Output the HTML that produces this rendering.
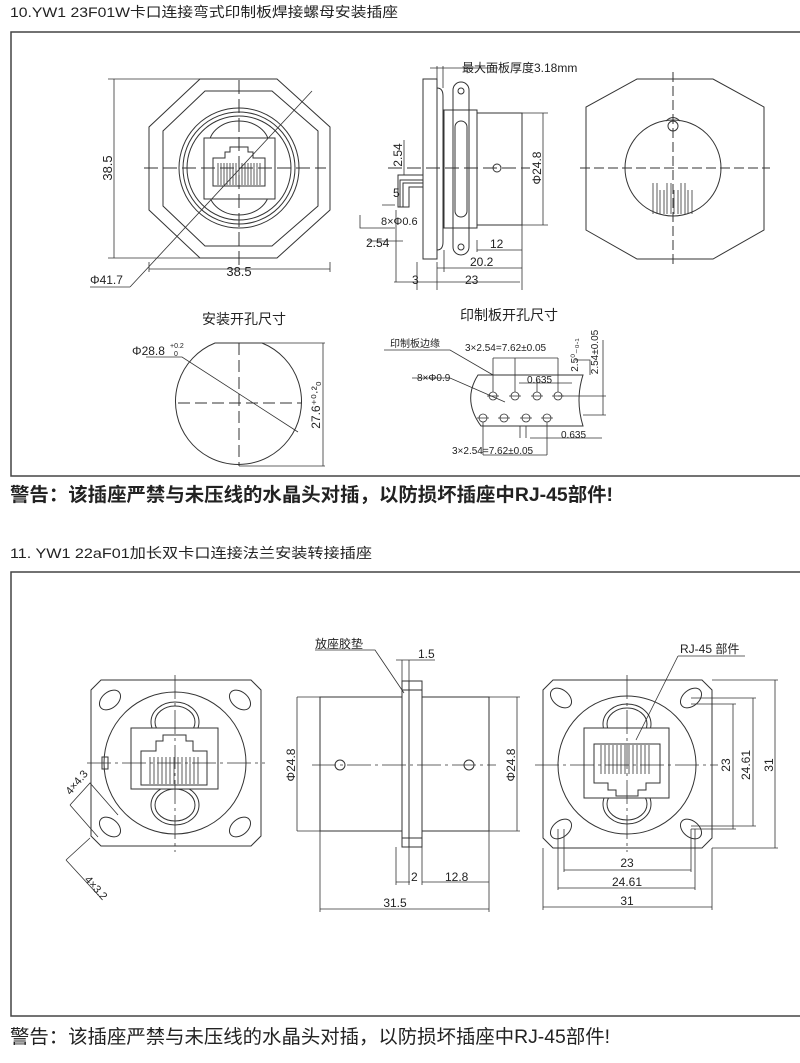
<!DOCTYPE html>
<html><head><meta charset="utf-8"><style>
html,body{margin:0;padding:0;background:#fff;width:800px;height:1063px;overflow:hidden}
svg{display:block}
text{font-family:"Liberation Sans","Noto Sans CJK SC",sans-serif;fill:#222}
</style></head><body>
<svg width="800" height="1063" viewBox="0 0 800 1063" xmlns="http://www.w3.org/2000/svg">
<g fill="none" stroke="#333" stroke-width="1">
<rect x="11" y="32" width="795" height="444" stroke="#444" stroke-width="1.5"/>
<rect x="11" y="572" width="795" height="444" stroke="#444" stroke-width="1.5"/>

<polygon points="200,79 277,79 330,127 330,210 277,258 200,258 149,210 149,127"/>
<polygon points="205,91 272,91 318,131 318,206 272,246 205,246 163,206 163,131"/>
<circle cx="239" cy="168" r="60"/>
<circle cx="239" cy="168" r="56"/>
<circle cx="239" cy="168" r="52"/>
<ellipse cx="239" cy="145" rx="30" ry="24"/>
<ellipse cx="239" cy="191" rx="30" ry="24"/>
<rect x="204" y="138" width="71" height="61" fill="#fff"/>
<path d="M213,186 V158 H225 V152 H230 V147 H248 V152 H253 V158 H265 V186 Z"/>
<g stroke-width="0.8">
<path d="M218,163V185M221,163V185M224,163V185M227,163V185M230,163V185M233,163V185M236,163V185M239,163V185M242,163V185M245,163V185M248,163V185M251,163V185M254,163V185M257,163V185M260,163V185"/>
</g>
<path d="M144,168H326M239,80V270" stroke-dasharray="14,5"/>
<path d="M130,287 L312,91" stroke-width="0.8"/>
<path d="M114,79V258M108,79H200M108,258H200M149,262V272M330,262V272M149,269H330" stroke-width="0.8"/>
<path d="M90,287H130" stroke-width="0.8"/>

<rect x="423" y="79" width="14" height="180"/>
<path d="M437,88 Q443,88 443,96 V242 Q443,250 437,250"/>
<rect x="444" y="110" width="33" height="118"/>
<rect x="453" y="82" width="16" height="173" rx="8"/>
<rect x="455" y="121" width="12" height="96" rx="6"/>
<circle cx="461" cy="91" r="3"/><circle cx="461" cy="247" r="3"/>
<rect x="477" y="113" width="45" height="112"/>
<circle cx="497" cy="168" r="4"/>
<path d="M388,168H530" stroke-dasharray="14,5"/>
<path d="M423,175H398V207H403V183H423M423,180H400V207M409,193V207"/>
<path d="M398,193V207H409V187H423"/>
<path d="M543,113V225M522,113H548M522,225H548" stroke-width="0.8"/>
<path d="M437,66V79M443,66V88M430,68H498" stroke-width="0.8"/>
<path d="M404,140V175M395,205H382M395,228H360V215M403,241H368M396,210V282M417,262V290M394,282H520M437,262V290M444,250V272M477,240V252M477,250H522M437,268H522M522,225V290" stroke-width="0.8"/>

<polygon points="637,79 713,79 764,107 764,230 713,259 637,259 586,230 586,107"/>
<circle cx="673" cy="168" r="48"/>
<circle cx="673" cy="126" r="5"/><path d="M666,121 Q673,114 680,121" />
<path d="M580,168H770M673,72V265" stroke-dasharray="10,4"/>
<g stroke-width="0.8"><path d="M653,183V214M657,183V214M660,190V214M664,190V214M667,183V214M671,183V214M674,190V214M678,190V214M681,183V214M685,183V214M688,190V214M692,190V214"/></g>

<path d="M215,343 H262 A63,63 0 1 1 215,343 Z"/>
<path d="M178,403H302M239,343V466" stroke-dasharray="12,5"/>
<path d="M146,357 H182 L298,432" stroke-width="0.8"/>
<path d="M262,343H325M239,466H325M323,343V466" stroke-width="0.8"/>

<path d="M478,375 H583 Q575,400 583,426 H481 Q462,400 478,375Z"/>
<g stroke-width="0.8">
<circle cx="493" cy="396" r="4"/><circle cx="515" cy="396" r="4"/><circle cx="537" cy="396" r="4"/><circle cx="558" cy="396" r="4"/>
<circle cx="483" cy="418" r="4"/><circle cx="504" cy="418" r="4"/><circle cx="526" cy="418" r="4"/><circle cx="547" cy="418" r="4"/>
<path d="M487,396H499M509,396H521M531,396H543M552,396H564M477,418H489M498,418H510M520,418H532M541,418H553"/>
<path d="M384,350H450L493,375M412,378H450L505,402M493,358V392M558,358V392M493,358H558M515,358V392M537,380V392M519,383H572M558,396H606M583,415H606M575,360H590V375M603,340V415M483,422V455M547,422V455M483,455H547M520,426V438M526,426V438M530,438H602"/>
</g>

<polygon points="101,680 251,680 261,690 261,836 251,846 101,846 91,836 91,690"/>
<circle cx="175" cy="763" r="71"/>
<ellipse cx="175" cy="722" rx="24" ry="20"/><ellipse cx="175" cy="722" rx="20" ry="16"/>
<ellipse cx="175" cy="805" rx="24" ry="20"/><ellipse cx="175" cy="805" rx="20" ry="16"/>
<rect x="131" y="728" width="87" height="61" fill="#fff"/>
<path d="M141,785V751H156V741H163V735H186V741H193V751H207V785Z"/>
<g stroke-width="0.8"><path d="M150,757V784M154,757V784M158,757V784M162,757V784M166,757V784M170,757V784M174,757V784M178,757V784M182,757V784M186,757V784M190,757V784M194,757V784M198,757V784"/></g>
<g transform="rotate(-40 110 700)"><ellipse cx="110" cy="700" rx="12" ry="8"/></g>
<g transform="rotate(40 240 700)"><ellipse cx="240" cy="700" rx="12" ry="8"/></g>
<g transform="rotate(40 110 827)"><ellipse cx="110" cy="827" rx="12" ry="8"/></g>
<g transform="rotate(-40 240 827)"><ellipse cx="240" cy="827" rx="12" ry="8"/></g>
<rect x="102" y="757" width="6" height="12"/>
<path d="M87,763H265M175,675V852" stroke-dasharray="24,4,3,4" stroke-width="0.8"/>
<path d="M70,805L90,783L118,815M70,805L98,837M66,860L90,838M66,860L100,897" stroke-width="0.8"/>

<rect x="320" y="697" width="169" height="134"/>
<rect x="402" y="681" width="20" height="166" fill="#fff"/>
<path d="M409,681V847M402,690H422M402,838H422"/>
<circle cx="340" cy="765" r="5"/><circle cx="469" cy="765" r="5"/>
<path d="M312,765H496" stroke-dasharray="24,4,3,4" stroke-width="0.8"/>
<path d="M297,697V831M297,697H320M297,831H320M517,697V831M489,697H520M489,831H520M320,831V912M489,831V912M320,909H489M396,847V885M409,847V885M422,847V885M396,882H410M422,882H489M402,660V681M409,660V681M396,660H435M315,650H375L404,693" stroke-width="0.8"/>

<polygon points="553,680 702,680 712,690 712,838 702,848 553,848 543,838 543,690"/>
<circle cx="627" cy="765" r="69"/>
<ellipse cx="627" cy="724" rx="24" ry="20"/><ellipse cx="627" cy="724" rx="20" ry="16"/>
<ellipse cx="627" cy="804" rx="24" ry="20"/><ellipse cx="627" cy="804" rx="20" ry="16"/>
<rect x="584" y="728" width="85" height="70" fill="#fff"/>
<path d="M594,744V783H608V790H616V796H638V790H646V783H660V744Z"/>
<g stroke-width="0.8"><path d="M601,745V774M605,745V774M609,745V774M613,745V774M617,745V774M621,745V774M625,745V774M629,745V774M633,745V774M637,745V774M641,745V774M645,745V774M649,745V774"/></g>
<g transform="rotate(40 561 698)"><ellipse cx="561" cy="698" rx="12" ry="8"/></g>
<g transform="rotate(-40 691 698)"><ellipse cx="691" cy="698" rx="12" ry="8"/></g>
<g transform="rotate(-40 561 829)"><ellipse cx="561" cy="829" rx="12" ry="8"/></g>
<g transform="rotate(40 691 829)"><ellipse cx="691" cy="829" rx="12" ry="8"/></g>
<path d="M535,765H718M627,675V852" stroke-dasharray="24,4,3,4" stroke-width="0.8"/>
<path d="M691,698H756M691,704H736M691,829H736M691,826H756M712,680H778M712,848H778M733,704V829M753,698V826M775,680V848" stroke-width="0.8"/>
<path d="M564,829V872M558,829V890M691,829V872M695,829V890M543,848V910M712,848V910M564,870H691M558,888H695M543,907H712" stroke-width="0.8"/>
<path d="M678,656H745M678,656L636,740" stroke-width="0.8"/>
</g>

<text x="10" y="17" font-size="14" textLength="388" lengthAdjust="spacingAndGlyphs">10.YW1 23F01W卡口连接弯式印制板焊接螺母安装插座</text>
<text x="112" y="168" font-size="13" transform="rotate(-90 112 168)" text-anchor="middle">38.5</text>
<text x="239" y="276" font-size="13" text-anchor="middle">38.5</text>
<text x="90" y="284" font-size="12">Φ41.7</text>
<text x="462" y="72" font-size="12">最大面板厚度3.18mm</text>
<text x="402" y="155" font-size="12" transform="rotate(-90 402 155)" text-anchor="middle">2.54</text>
<text x="393" y="197" font-size="12">5</text>
<text x="381" y="225" font-size="11">8×Φ0.6</text>
<text x="366" y="247" font-size="12">2.54</text>
<text x="490" y="248" font-size="12">12</text>
<text x="470" y="266" font-size="12">20.2</text>
<text x="412" y="284" font-size="12">3</text>
<text x="465" y="284" font-size="12">23</text>
<text x="541" y="168" font-size="12" transform="rotate(-90 541 168)" text-anchor="middle">Φ24.8</text>
<text x="202" y="324" font-size="14">安装开孔尺寸</text>
<text x="460" y="320" font-size="14">印制板开孔尺寸</text>
<text x="132" y="355" font-size="12">Φ28.8</text><text x="170" y="348" font-size="7">+0.2</text><text x="174" y="356" font-size="7">0</text>
<text x="320" y="405" font-size="12" transform="rotate(-90 320 405)" text-anchor="middle">27.6⁺⁰·²₀</text>
<text x="390" y="347" font-size="10">印制板边缘</text>
<text x="465" y="351" font-size="10">3×2.54=7.62±0.05</text>
<text x="417" y="381" font-size="10">8×Φ0.9</text>
<text x="527" y="383" font-size="10">0.635</text>
<text x="561" y="438" font-size="10">0.635</text>
<text x="452" y="454" font-size="10">3×2.54=7.62±0.05</text>
<text x="578" y="355" font-size="10" transform="rotate(-90 578 355)" text-anchor="middle">2.5⁰₋₀.₁</text>
<text x="598" y="352" font-size="10" transform="rotate(-90 598 352)" text-anchor="middle">2.54±0.05</text>
<text x="10" y="501" font-size="19" font-weight="bold" textLength="603" lengthAdjust="spacingAndGlyphs">警告：该插座严禁与未压线的水晶头对插，以防损坏插座中RJ-45部件!</text>
<text x="10" y="558" font-size="14" textLength="362" lengthAdjust="spacingAndGlyphs">11. YW1 22aF01加长双卡口连接法兰安装转接插座</text>
<text x="315" y="648" font-size="12">放座胶垫</text>
<text x="418" y="658" font-size="12">1.5</text>
<text x="295" y="765" font-size="12" transform="rotate(-90 295 765)" text-anchor="middle">Φ24.8</text>
<text x="515" y="765" font-size="12" transform="rotate(-90 515 765)" text-anchor="middle">Φ24.8</text>
<text x="411" y="881" font-size="12">2</text>
<text x="445" y="881" font-size="12">12.8</text>
<text x="395" y="907" font-size="12" text-anchor="middle">31.5</text>
<text x="68" y="790" font-size="11" transform="rotate(-50 75 790)">4×4.3</text>
<text x="84" y="880" font-size="11" transform="rotate(48 84 880)">4×3.2</text>
<text x="680" y="653" font-size="12">RJ-45 部件</text>
<text x="730" y="765" font-size="12" transform="rotate(-90 730 765)" text-anchor="middle">23</text>
<text x="750" y="765" font-size="12" transform="rotate(-90 750 765)" text-anchor="middle">24.61</text>
<text x="773" y="765" font-size="12" transform="rotate(-90 773 765)" text-anchor="middle">31</text>
<text x="627" y="867" font-size="12" text-anchor="middle">23</text>
<text x="627" y="886" font-size="12" text-anchor="middle">24.61</text>
<text x="627" y="905" font-size="12" text-anchor="middle">31</text>
<text x="10" y="1043" font-size="19" textLength="600" lengthAdjust="spacingAndGlyphs">警告：该插座严禁与未压线的水晶头对插，以防损坏插座中RJ-45部件!</text>
</svg>
</body></html>
